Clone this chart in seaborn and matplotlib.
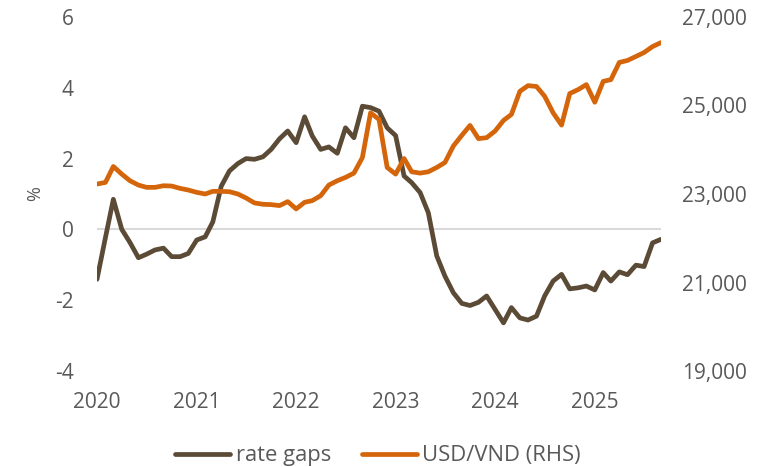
import pandas as pd
import seaborn as sns
import matplotlib.pyplot as plt
from matplotlib.ticker import FuncFormatter

# monthly, Jan 2020 - Sep 2025
meses = pd.date_range('2020-01-01', periods=69, freq='MS')

rate_gaps = [
    -1.41, -0.23, 0.85, 0.00, -0.37, -0.80, -0.70, -0.58, -0.53, -0.77, -0.77, -0.68,
    -0.30, -0.21, 0.21, 1.22, 1.65, 1.86, 2.00, 1.98, 2.05, 2.26, 2.56, 2.78,
    2.45, 3.18, 2.64, 2.26, 2.33, 2.15, 2.87, 2.59, 3.48, 3.44, 3.34, 2.87,
    2.65, 1.51, 1.32, 1.04, 0.47, -0.75, -1.32, -1.79, -2.09, -2.15, -2.06, -1.88,
    -2.26, -2.64, -2.21, -2.50, -2.56, -2.45, -1.88, -1.46, -1.27, -1.68, -1.65, -1.60,
    -1.71, -1.22, -1.46, -1.20, -1.28, -1.01, -1.05, -0.38, -0.28,
]

usd_vnd = [
    23225, 23262, 23622, 23449, 23300, 23202, 23150, 23150, 23187, 23180, 23127, 23090,
    23037, 23000, 23060, 23060, 23052, 23000, 22910, 22798, 22768, 22760, 22738, 22828,
    22663, 22813, 22850, 22962, 23202, 23300, 23375, 23472, 23824, 24835, 24685, 23600,
    23449, 23802, 23502, 23472, 23502, 23600, 23712, 24086, 24326, 24550, 24251, 24273,
    24423, 24663, 24798, 25321, 25449, 25430, 25209, 24835, 24557, 25270, 25360, 25472,
    25074, 25546, 25584, 25973, 26018, 26108, 26198, 26332, 26422,
]

anos = [2020, 2021, 2022, 2023, 2024, 2025]

df = pd.DataFrame({'data': meses, 'rate gaps': rate_gaps, 'USD/VND (RHS)': usd_vnd})

sns.set_style('white')
plt.rcParams['font.family'] = ['Open Sans', 'DejaVu Sans']
plt.rcParams['axes.unicode_minus'] = False

cinza = '#595959'
marrom = '#5B4A36'
laranja = '#D5650A'

fig = plt.figure(figsize=(7.72, 4.67), dpi=100)
ax = fig.add_axes([97 / 772, 96 / 467, (661 - 97) / 772, 354 / 467])

ax.axhline(0, color='#D9D9D9', lw=1.5, zorder=0)
sns.lineplot(data=df, x='data', y='rate gaps', ax=ax, color=marrom, lw=3.4,
             label='rate gaps', legend=False)

ax2 = ax.twinx()
sns.lineplot(data=df, x='data', y='USD/VND (RHS)', ax=ax2, color=laranja, lw=3.4,
             label='USD/VND (RHS)', legend=False)

ax.set_xlim(meses[0], meses[-1])
ax.set_ylim(-4, 6)
ax.set_yticks([-4, -2, 0, 2, 4, 6])
ax2.set_ylim(19000, 27000)
ax2.set_yticks([19000, 21000, 23000, 25000, 27000])
ax2.yaxis.set_major_formatter(FuncFormatter(lambda v, p: f'{int(v):,}'))

ax.set_xticks([pd.Timestamp(f'{a}-01-01') for a in anos])
ax.set_xticklabels([str(a) for a in anos])

ax.set_xlabel('')
ax.set_ylabel('%', color=cinza, fontsize=13)
ax.yaxis.set_label_coords(-0.094, 0.5)
ax2.set_ylabel('')

for a in (ax, ax2):
    for s in a.spines.values():
        s.set_visible(False)
    a.grid(False)

ax.tick_params(axis='y', length=0, pad=17, labelsize=15, labelcolor=cinza)
ax.tick_params(axis='x', length=0, pad=15, labelsize=15, labelcolor=cinza)
ax2.tick_params(axis='y', length=0, pad=15, labelsize=15, labelcolor=cinza)

h1, l1 = ax.get_legend_handles_labels()
h2, l2 = ax2.get_legend_handles_labels()
fig.legend(h1 + h2, l1 + l2, loc='center', bbox_to_anchor=(378 / 772, 1 - 456 / 467),
           ncol=2, frameon=False, fontsize=15.8, labelcolor=cinza,
           handlelength=2.5, handletextpad=0.25, columnspacing=1.4)

plt.savefig('out.png', dpi=100)
